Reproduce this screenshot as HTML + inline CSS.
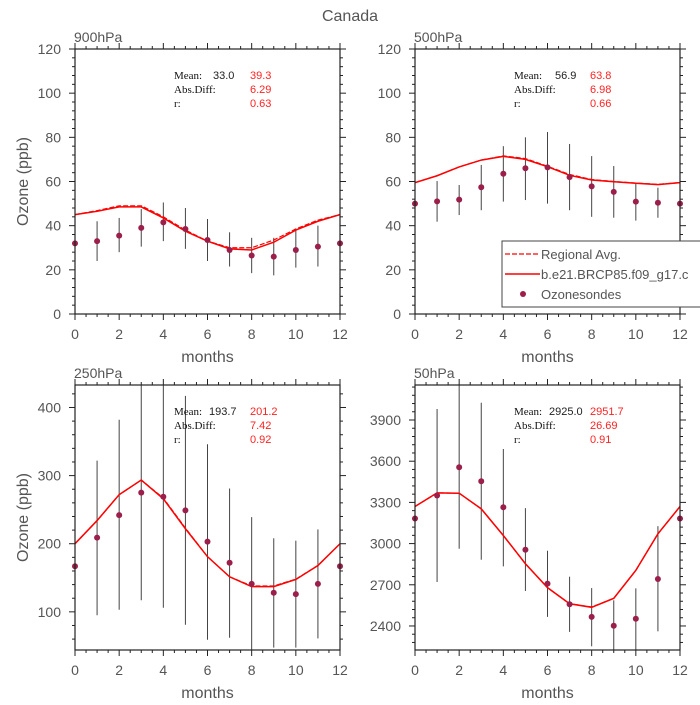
<!DOCTYPE html>
<html><head><meta charset="utf-8"><style>
body{margin:0;background:#fff}
svg text{font-family:"Liberation Sans",sans-serif}
</style></head><body>
<svg id="c" width="700" height="700" xmlns="http://www.w3.org/2000/svg">
<text x="350" y="21" text-anchor="middle" font-size="16" fill="#555">Canada</text>
</svg>
<script>
const months = [0,1,2,3,4,5,6,7,8,9,10,11,12];
// 900hPa
const p900Model = [45,46.5,48.5,48.5,43.5,37.5,33,29.5,29,32.5,38,42,45];
const p900Regional = [45,46.8,49,49,44,38,33,30,30,33.5,38.5,42.5,45];
const p900Obs = [32,33,35.5,39,41.5,38.5,33.5,29,26.5,26,29,30.5,32];
const p900Hi = [null,42,43.5,47.5,50.5,48,43,37,34.5,34.5,38,40,null];
const p900Lo = [null,24,28,30.5,33,29.5,24,21.5,18.5,17.5,21,21.5,null];
const p900Ticks = [0,20,40,60,80,100,120];
// 500hPa
const p500Model = [59.5,62.6,66.6,69.7,71.4,70,66.7,62.8,60.7,59.9,59.2,58.6,59.5];
const p500Regional = [59.5,62.6,66.6,69.7,71.6,70.4,66.9,63.2,60.9,60,59.3,58.7,59.5];
const p500Obs = [50,51,51.8,57.4,63.5,66,66.4,62,57.8,55.3,50.9,50.4,50];
const p500Hi = [null,60.2,58.4,67.5,76,80,82.4,77,71.5,67,59,57.2,null];
const p500Lo = [null,41.8,44.8,47,50.9,51.6,50,47,44,43.6,42.3,43.6,null];
const p500Ticks = [0,20,40,60,80,100,120];
// 250hPa
const p250Model = [200,234,272,293.5,266,222,181,151.5,137,137,147.5,168,200];
const p250Regional = [200,234,272,293.5,267,223,181,151.5,138,138,148,168,200];
const p250Obs = [167,209,242,275,269,249,203,172,141,128,126,141,167];
const p250Hi = [null,322,382,450,450,417,346,281,239,208,204.5,221,null];
const p250Lo = [null,95,103,117,106,81,59,62,30,47.5,47.5,61,null];
const p250Ticks = [100,200,300,400];
// 50hPa
const p50Model = [3270,3369,3367,3253,3059,2853,2679,2562,2536,2601,2805,3071,3270];
const p50Regional = [3270,3369,3367,3253,3059,2853,2679,2562,2538,2601,2805,3071,3270];
const p50Obs = [3183,3350,3556,3454,3265,2955,2708,2558,2466,2402,2453,2742,3183];
const p50Hi = [null,3980,4300,4026,3689,3258,2948,2759,2676,2587,2674,3127,null];
const p50Lo = [null,2720,2962,2882,2834,2655,2466,2357,2252,2150,2150,2361,null];
const p50Ticks = [2400,2700,3000,3300,3600,3900];
const xTicks = [0,2,4,6,8,10,12];

const NS='http://www.w3.org/2000/svg';
const svg=document.getElementById('c');
function mk(tag,attrs,parent){const e=document.createElementNS(NS,tag);for(const k in attrs)e.setAttribute(k,attrs[k]);(parent||svg).appendChild(e);return e;}

function panel(o){
  const g=mk('g',{});
  
  
  const L=o.x0,R=o.x0+265,T=o.y0,B=o.y0+265;
  const xs=m=>L+(m/12)*(R-L);
  const ys=v=>B-(v-o.ymin)/(o.ymax-o.ymin)*(B-T);
  const cid='clip'+o.name;
  const cp=mk('clipPath',{id:cid},g);mk('rect',{x:L,y:T,width:R-L,height:B-T},cp);
  for(let m=0;m<=12;m+=0.5){const big=m%2===0;const len=big?6:3;
    mk('line',{x1:xs(m),x2:xs(m),y1:B,y2:B+len,stroke:'#222','stroke-width':1},g);
    mk('line',{x1:xs(m),x2:xs(m),y1:T,y2:T-len,stroke:'#222','stroke-width':1},g);}
  const step=o.ticks[1]-o.ticks[0], minor=step/5;
  for(let v=Math.ceil(o.ymin/minor)*minor;v<=o.ymax+1e-6;v+=minor){
    const big=Math.abs(Math.round(v/step)*step-v)<1e-6;const len=big?6:3;const y=ys(v);
    mk('line',{x1:L-len,x2:L,y1:y,y2:y,stroke:'#222','stroke-width':1},g);
    mk('line',{x1:R,x2:R+len,y1:y,y2:y,stroke:'#222','stroke-width':1},g);}
  o.ticks.forEach(v=>{const t=mk('text',{x:L-14,y:ys(v)+5,'text-anchor':'end','font-size':14,fill:'#555'},g);t.textContent=v;
    
    });
  xTicks.forEach(m=>{const t=mk('text',{x:xs(m),y:B+25,'text-anchor':'middle','font-size':14,fill:'#555'},g);t.textContent=m;
    
    });
  const xt=mk('text',{x:(L+R)/2,y:B+48,'text-anchor':'middle','font-size':16,fill:'#555'},g);xt.textContent='months';
  
  
  if(o.ylab){const yt=mk('text',{x:0,y:0,'text-anchor':'middle','font-size':16,fill:'#555',transform:`translate(28,${(T+B)/2}) rotate(-90)`},g);yt.textContent='Ozone (ppb)';
    
    }
  const pt=mk('text',{x:L-1,y:T-7,'font-size':14,fill:'#555'},g);pt.textContent=o.title;
  
  
  const pg=mk('g',{'clip-path':`url(#${cid})`},g);
  months.forEach((m,i)=>{if(o.hi[i]==null)return;const l=mk('line',{x1:xs(m),x2:xs(m),y1:ys(o.hi[i]),y2:ys(o.lo[i]),stroke:'#444','stroke-width':1},pg);
    
    });
  const pts=a=>a.map((v,i)=>xs(months[i])+','+ys(v)).join(' ');
  const dl=mk('polyline',{points:pts(o.reg),fill:'none',stroke:'#f00','stroke-width':1.2,'stroke-dasharray':'5,2'},pg);
  
  
  const sl=mk('polyline',{points:pts(o.model),fill:'none',stroke:'#f00','stroke-width':1.5},pg);
  
  
  months.forEach((m,i)=>{const c=mk('circle',{cx:xs(m),cy:ys(o.obs[i]),r:3,fill:'#9b1f4a'},g);
    
    });
  mk('rect',{x:L,y:T,width:R-L,height:B-T,fill:'none',stroke:'#222','stroke-width':1.2},g);
  const sx=L+99,sy=T+30;
  const st=[['Mean:',o.s[0],o.s[1]],['Abs.Diff:','',o.s[2]],['r:','',o.s[3]]];
  st.forEach((r,k)=>{const y=sy+k*14;
    const a=mk('text',{x:sx,y:y,'font-size':11,fill:'#111',style:'font-family:"Liberation Serif",serif'},g);a.textContent=r[0];
    
    if(r[1]){const b=mk('text',{x:sx+o.vx,y:y,'font-size':11,fill:'#222'},g);b.textContent=r[1];
      }
    const c=mk('text',{x:sx+76,y:y,'font-size':11,fill:'#f22'},g);c.textContent=r[2];
    });
}
panel({name:'panel-900hpa',x0:75,y0:49,ymin:0,ymax:120,ticks:p900Ticks,model:p900Model,reg:p900Regional,obs:p900Obs,hi:p900Hi,lo:p900Lo,title:'900hPa',ylab:true,s:['33.0','39.3','6.29','0.63'],vx:39});
panel({name:'panel-500hpa',x0:415,y0:49,ymin:0,ymax:120,ticks:p500Ticks,model:p500Model,reg:p500Regional,obs:p500Obs,hi:p500Hi,lo:p500Lo,title:'500hPa',ylab:false,s:['56.9','63.8','6.98','0.66'],vx:41});
panel({name:'panel-250hpa',x0:75,y0:385,ymin:44,ymax:433,ticks:p250Ticks,model:p250Model,reg:p250Regional,obs:p250Obs,hi:p250Hi,lo:p250Lo,title:'250hPa',ylab:true,s:['193.7','201.2','7.42','0.92'],vx:35});
panel({name:'panel-50hpa',x0:415,y0:385,ymin:2225,ymax:4155,ticks:p50Ticks,model:p50Model,reg:p50Regional,obs:p50Obs,hi:p50Hi,lo:p50Lo,title:'50hPa',ylab:false,s:['2925.0','2951.7','26.69','0.91'],vx:35});

const lg=mk('g',{});


mk('rect',{x:502,y:241,width:205,height:66,fill:'#fff',stroke:'#444','stroke-width':1},lg);
mk('line',{x1:505,x2:540,y1:254,y2:254,stroke:'#f00','stroke-width':1.2,'stroke-dasharray':'5,2'},lg);
mk('line',{x1:505,x2:540,y1:274,y2:274,stroke:'#f00','stroke-width':1.5},lg);
mk('circle',{cx:523,cy:294,r:3,fill:'#9b1f4a'},lg);
[['Regional Avg.',259],['b.e21.BRCP85.f09_g17.c',279],['Ozonesondes',299]].forEach(([t,y])=>{const e=mk('text',{x:541,y:y,'font-size':13,fill:'#555'},lg);e.textContent=t;
  
  });
</script>
</body></html>
